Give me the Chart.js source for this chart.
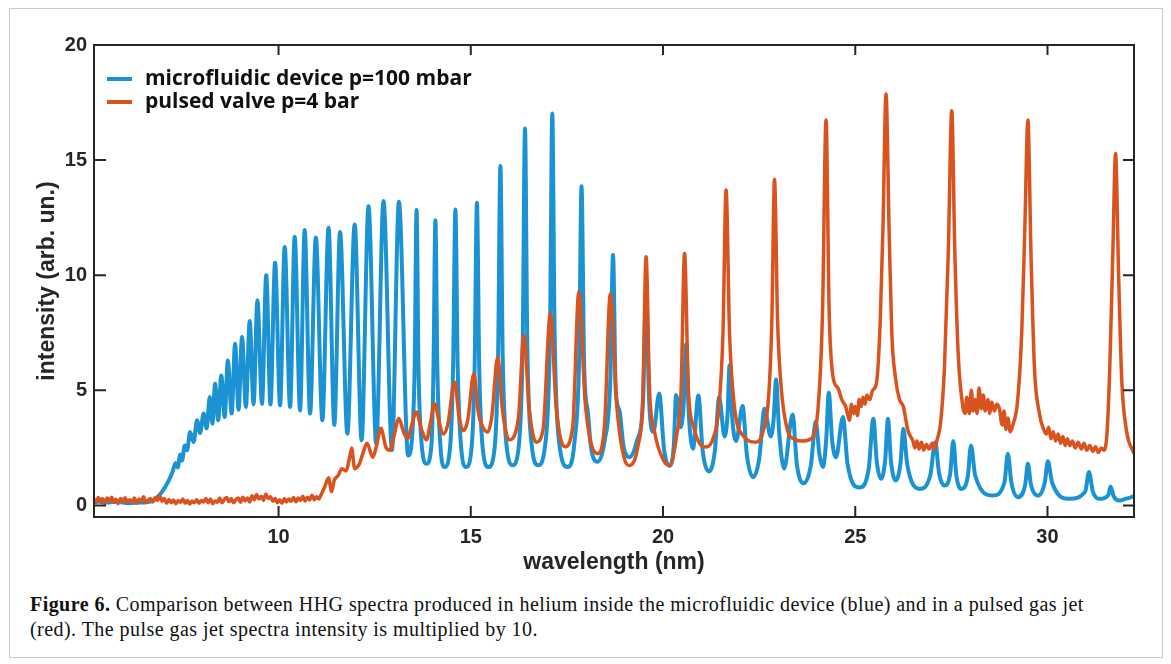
<!DOCTYPE html>
<html>
<head>
<meta charset="utf-8">
<title>HHG spectra</title>
<script src="https://cdn.jsdelivr.net/npm/chart.js@4.4.1/dist/chart.umd.min.js"></script>
<style>
  body { margin: 0; background: #fff; }
  #frame { position: absolute; left: 9px; top: 8px; width: 1152px; height: 648px; border: 1px solid #cacaca; }
  #wrap { position: absolute; left: 0; top: 0; width: 1171px; height: 585px; }
  #caption { position: absolute; left: 30px; top: 592px; font-family: "Liberation Serif", serif; font-size: 20px; letter-spacing: 0.45px; line-height: 25px; color: #111; white-space: nowrap; }
</style>
</head>
<body>
<div id="frame"></div>
<div id="wrap"><canvas id="spectrumChart"></canvas></div>
<div id="caption"><b>Figure 6.</b> Comparison between HHG spectra produced in helium inside the microfluidic device (blue) and in a pulsed gas jet<br>(red). The pulse gas jet spectra intensity is multiplied by 10.</div>
<script>
// values: [wavelength nm, intensity]
const microfluidic = [
  [5.20,0.20],[5.50,0.12],[5.80,0.16],[6.10,0.10],[6.40,0.13],[6.70,0.18],[6.90,0.45],[7.05,0.80],
  [7.15,1.10],[7.25,1.50],[7.32,1.85],[7.38,1.65],[7.44,2.20],[7.49,1.95],[7.56,2.60],[7.62,2.40],
  [7.70,3.19],[7.79,2.75],[7.88,3.70],[7.96,3.15],[8.05,3.99],[8.13,3.35],[8.21,4.71],[8.28,3.55],
  [8.35,5.29],[8.43,3.70],[8.51,5.65],[8.60,3.84],[8.68,6.30],[8.78,3.99],[8.87,7.03],[8.96,4.16],
  [9.05,7.32],[9.15,4.28],[9.25,8.01],[9.35,4.39],[9.45,8.91],[9.57,4.42],[9.68,10.0],[9.79,4.39],
  [9.91,10.54],[10.04,4.35],[10.16,11.23],[10.30,4.28],[10.42,11.67],[10.56,4.13],[10.68,11.96],
  [10.82,3.99],[10.97,11.64],[11.14,3.70],[11.30,12.06],[11.45,3.50],[11.60,11.88],[11.79,3.12],
  [11.98,12.20],[12.16,2.83],[12.34,13.0],[12.54,2.68],[12.73,13.23],[12.95,2.40],[13.13,13.19],
  [13.37,2.17],[13.47,2.9],[13.54,6.0],[13.59,12.83],[13.64,6.0],[13.72,2.7],[13.85,1.81],
  [13.98,2.7],[14.03,6.0],[14.08,12.39],[14.13,6.0],[14.21,2.6],[14.32,1.67],
  [14.46,2.5],[14.54,6.0],[14.60,12.86],[14.66,6.0],[14.75,2.5],[14.88,1.67],
  [15.02,2.5],[15.10,6.0],[15.16,13.15],[15.22,6.0],[15.31,2.5],[15.46,1.67],
  [15.62,2.5],[15.71,6.5],[15.77,14.74],[15.83,6.5],[15.93,2.6],[16.09,1.75],
  [16.25,2.6],[16.35,7.0],[16.41,16.37],[16.47,7.0],[16.58,2.7],[16.75,1.75],
  [16.94,2.7],[17.06,7.5],[17.12,17.02],[17.18,7.5],[17.30,2.7],[17.52,1.67],
  [17.70,2.8],[17.82,6.5],[17.88,13.87],[17.95,6.0],[18.05,4.0],[18.12,2.6],[18.30,1.9],
  [18.48,2.8],[18.63,5.5],[18.70,10.88],[18.77,5.0],[18.87,4.1],[18.97,2.6],[19.13,2.1],
  [19.32,2.8],[19.48,4.5],[19.56,9.1],[19.64,4.5],[19.75,3.2],[19.90,4.86],[20.03,2.4],[20.17,1.72],
  [20.28,2.6],[20.34,4.80],[20.46,3.4],[20.54,4.5],[20.60,7.0],[20.67,4.0],[20.78,2.46],[20.92,4.78],
  [21.03,2.4],[21.20,1.48],[21.35,2.4],[21.46,4.70],[21.60,3.0],[21.68,4.0],[21.73,6.09],[21.80,3.8],
  [21.90,2.8],[22.07,4.32],[22.18,2.2],[22.34,1.23],[22.50,2.0],[22.64,4.20],[22.80,3.0],[22.88,3.8],
  [22.94,5.47],[23.02,3.2],[23.15,1.6],[23.37,3.95],[23.48,1.8],[23.66,0.97],[23.85,1.8],[23.97,3.65],
  [24.07,2.2],[24.16,1.67],[24.25,3.0],[24.31,4.90],[24.40,2.8],[24.50,2.1],[24.68,3.84],[24.80,1.8],
  [25.11,0.78],[25.35,1.6],[25.47,3.77],[25.56,1.9],[25.67,1.16],[25.78,2.0],[25.85,3.77],[25.93,1.9],
  [26.06,1.09],[26.18,1.9],[26.25,3.33],[26.35,1.8],[26.67,0.72],[26.95,1.3],[27.08,2.75],[27.18,1.4],
  [27.32,0.87],[27.47,1.4],[27.55,2.80],[27.63,1.3],[27.76,0.72],[27.93,1.3],[28.01,2.61],[28.12,1.3],
  [28.58,0.43],[28.88,1.0],[28.97,2.25],[29.06,1.0],[29.23,0.36],[29.42,0.9],[29.49,1.81],[29.57,0.9],
  [29.75,0.43],[29.93,1.0],[30.01,1.92],[30.12,1.0],[30.57,0.29],[30.98,0.6],[31.08,1.45],[31.18,0.6],
  [31.35,0.29],[31.58,0.45],[31.64,0.83],[31.72,0.4],[31.87,0.22],[32.05,0.3],[32.25,0.40]
];

const pulsedValve = [
  [5.20,0.28],[5.26,0.12],[5.31,0.35],[5.37,0.18],[5.42,0.30],[5.48,0.10],[5.54,0.32],[5.60,0.20],
  [5.66,0.36],[5.71,0.14],[5.77,0.27],[5.83,0.08],[5.89,0.30],[5.95,0.18],[6.01,0.34],[6.07,0.12],
  [6.13,0.25],[6.19,0.16],[6.25,0.33],[6.31,0.10],[6.37,0.28],[6.43,0.20],[6.49,0.38],[6.55,0.12],
  [6.61,0.24],[6.67,0.30],[6.73,0.15],[6.79,0.35],[6.85,0.22],[6.91,0.42],[6.97,0.18],[7.03,0.30],
  [7.09,0.10],[7.15,0.26],[7.21,0.12],[7.27,0.24],[7.33,0.08],[7.39,0.22],[7.45,0.14],[7.51,0.28],
  [7.57,0.10],[7.63,0.22],[7.69,0.06],[7.75,0.20],[7.81,0.12],[7.87,0.25],[7.93,0.10],[7.99,0.22],
  [8.05,0.15],[8.11,0.30],[8.17,0.12],[8.23,0.28],[8.29,0.08],[8.35,0.20],[8.41,0.14],[8.47,0.32],
  [8.53,0.12],[8.59,0.26],[8.65,0.35],[8.71,0.16],[8.77,0.30],[8.83,0.12],[8.89,0.25],[8.95,0.33],
  [9.01,0.14],[9.07,0.36],[9.13,0.20],[9.19,0.32],[9.25,0.15],[9.31,0.42],[9.37,0.25],[9.43,0.48],
  [9.49,0.28],[9.55,0.40],[9.61,0.22],[9.67,0.50],[9.73,0.30],[9.79,0.38],[9.85,0.18],[9.91,0.30],
  [9.97,0.12],[10.03,0.25],[10.09,0.10],[10.15,0.30],[10.21,0.15],[10.27,0.28],[10.33,0.18],[10.39,0.35],
  [10.45,0.16],[10.51,0.32],[10.57,0.22],[10.63,0.40],[10.69,0.20],[10.75,0.36],[10.81,0.24],[10.87,0.45],
  [10.93,0.25],[10.99,0.38],[11.05,0.28],[11.10,0.45],
  [11.20,0.80],[11.30,1.20],[11.38,0.60],[11.45,1.10],[11.55,1.30],[11.65,1.60],[11.75,1.50],
  [11.85,2.10],[11.90,2.50],[11.98,1.60],[12.10,1.80],[12.20,2.30],[12.30,2.70],[12.45,2.10],[12.55,2.60],
  [12.66,3.35],[12.80,2.50],[12.90,2.40],[13.00,3.00],[13.13,3.78],[13.25,3.20],[13.36,2.90],[13.45,3.40],
  [13.58,4.06],[13.72,3.30],[13.85,2.85],[13.95,3.60],[14.06,4.42],[14.18,3.60],[14.28,3.10],[14.40,3.50],
  [14.58,5.36],[14.70,3.80],[14.80,3.25],[14.92,3.70],[15.08,5.72],[15.20,4.00],[15.35,3.30],[15.44,3.19],
  [15.55,3.90],[15.70,6.45],[15.82,4.20],[16.00,2.85],[16.15,3.10],[16.25,4.00],[16.38,7.39],[16.52,4.20],
  [16.70,2.75],[16.88,3.30],[17.07,8.33],[17.22,4.30],[17.44,2.55],[17.65,3.40],[17.81,9.28],[17.98,4.40],
  [18.30,2.25],[18.48,3.50],[18.63,9.20],[18.80,4.30],[19.00,2.00],[19.13,1.74],[19.35,2.60],[19.47,4.50],
  [19.56,10.80],[19.65,5.00],[19.78,3.20],[20.00,2.00],[20.17,1.74],[20.35,3.00],[20.47,5.00],[20.56,10.94],
  [20.66,5.00],[20.80,3.40],[20.95,2.70],[21.12,2.54],[21.30,2.90],[21.45,4.20],[21.56,7.50],[21.64,13.70],
  [21.73,7.50],[21.85,4.40],[22.10,3.00],[22.42,2.75],[22.60,3.20],[22.75,4.80],[22.83,8.00],[22.90,14.16],
  [22.98,8.00],[23.08,5.00],[23.25,3.20],[23.40,2.90],[23.60,2.80],[23.85,2.90],[24.05,4.60],[24.15,8.50],
  [24.24,16.74],[24.32,8.50],[24.42,5.60],[24.55,5.10],[24.65,4.60],[24.75,4.30],[24.85,3.70],[24.90,4.40],
  [24.96,4.00],[25.00,4.30],[25.06,3.90],[25.10,4.60],[25.16,4.30],[25.20,4.70],[25.26,4.40],[25.30,4.80],
  [25.38,4.60],[25.45,5.00],[25.55,5.30],[25.65,8.00],[25.72,12.0],
  [25.80,17.87],[25.88,12.0],[25.95,7.50],[26.05,5.50],[26.15,4.60],[26.25,4.30],[26.37,3.26],[26.50,2.80],
  [26.55,2.50],[26.60,2.80],[26.66,2.45],[26.72,2.75],[26.78,2.40],[26.85,2.65],[26.92,2.45],[27.00,2.70],
  [27.06,2.45],[27.12,2.80],[27.22,3.60],[27.32,6.00],
  [27.42,11.0],[27.51,17.14],[27.59,11.0],[27.68,6.50],[27.80,4.27],[27.86,4.00],[27.90,4.70],[27.97,4.00],
  [28.02,5.00],[28.07,4.10],[28.12,4.60],[28.17,4.00],[28.22,5.10],[28.28,4.20],[28.33,4.80],[28.38,4.10],
  [28.45,4.60],[28.50,4.00],[28.55,4.50],[28.62,4.10],[28.68,4.40],[28.75,4.20],[28.82,3.50],[28.87,4.10],
  [28.92,3.30],[28.97,3.80],[29.03,3.20],[29.10,3.50],[29.22,4.50],[29.33,7.50],[29.41,12.0],[29.49,16.74],
  [29.57,11.0],[29.66,6.00],[29.79,3.99],[29.90,3.30],[29.97,3.10],[30.03,3.40],[30.09,2.90],[30.15,3.20],
  [30.21,2.80],[30.28,3.10],[30.34,2.70],[30.40,3.00],[30.46,2.60],[30.52,2.90],[30.58,2.60],[30.65,2.80],
  [30.72,2.50],[30.80,2.75],[30.88,2.45],[30.95,2.70],[31.02,2.40],[31.10,2.60],[31.18,2.35],[31.25,2.55],
  [31.32,2.30],[31.40,2.50],[31.47,2.40],
  [31.55,3.20],[31.62,6.00],[31.70,11.0],[31.77,15.29],[31.85,10.0],[31.93,5.50],[32.05,3.30],[32.25,2.25]
];

const seriesLabels = ['microfluidic device p=100 mbar', 'pulsed valve p=4 bar'];
const seriesColors = ['#1b93d3', '#d9531e'];
const xTickValues = [10, 15, 20, 25, 30];
const yTickValues = [0, 5, 10, 15, 20];

const axisColor = '#262626';

// box round the plot with inward ticks on all four sides
const frameTicks = {
  id: 'frameTicks',
  afterDatasetsDraw(chart) {
    const { ctx, chartArea: a, scales: { x, y } } = chart;
    ctx.save();
    ctx.strokeStyle = axisColor;
    ctx.lineWidth = 2;
    ctx.strokeRect(a.left, a.top, a.right - a.left, a.bottom - a.top);
    ctx.beginPath();
    x.ticks.forEach(t => {
      const px = x.getPixelForValue(t.value);
      ctx.moveTo(px, a.bottom); ctx.lineTo(px, a.bottom - 11);
      ctx.moveTo(px, a.top); ctx.lineTo(px, a.top + 10);
    });
    y.ticks.forEach(t => {
      const py = y.getPixelForValue(t.value);
      ctx.moveTo(a.left, py); ctx.lineTo(a.left + 12, py);
      ctx.moveTo(a.right, py); ctx.lineTo(a.right - 11, py);
    });
    ctx.stroke();
    ctx.restore();
  }
};

// legend sitting inside the top-left corner of the plot
const insideLegend = {
  id: 'insideLegend',
  afterDatasetsDraw(chart) {
    const { ctx, chartArea: a } = chart;
    ctx.save();
    ctx.font = 'bold 21px "Open Sans"';
    ctx.textBaseline = 'middle';
    chart.data.datasets.forEach((ds, i) => {
      const yMid = a.top + 34 + i * 23;
      ctx.fillStyle = ds.borderColor;
      ctx.fillRect(a.left + 13, yMid - 2, 25, 4);
      ctx.fillStyle = '#111';
      ctx.fillText(ds.label, a.left + 51, yMid);
    });
    ctx.restore();
  }
};

const ctx = document.getElementById('spectrumChart').getContext('2d');

new Chart(ctx, {
  type: 'line',
  data: {
    datasets: [
      {
        label: seriesLabels[0],
        data: microfluidic.map(p => ({ x: p[0], y: p[1] })),
        borderColor: seriesColors[0],
        backgroundColor: seriesColors[0],
        borderWidth: 4,
        pointRadius: 0,
        cubicInterpolationMode: 'monotone',
        order: 1
      },
      {
        label: seriesLabels[1],
        data: pulsedValve.map(p => ({ x: p[0], y: p[1] })),
        borderColor: seriesColors[1],
        backgroundColor: seriesColors[1],
        borderWidth: 3.5,
        pointRadius: 0,
        cubicInterpolationMode: 'monotone',
        order: 0
      }
    ]
  },
  options: {
    responsive: true,
    maintainAspectRatio: false,
    animation: false,
    devicePixelRatio: 1,
    layout: { padding: { top: 45, right: 37, bottom: 0, left: 0 } },
    plugins: {
      tooltip: { enabled: false },
      legend: { display: false }
    },
    scales: {
      x: {
        type: 'linear',
        min: 5.2,
        max: 32.25,
        afterBuildTicks(scale) { scale.ticks = xTickValues.map(v => ({ value: v })); },
        afterFit(scale) { scale.height = 68; },
        grid: { display: false, drawTicks: false },
        border: { display: false },
        ticks: {
          padding: 8,
          color: axisColor,
          font: { family: 'Liberation Sans', weight: 'bold', size: 20 }
        },
        title: {
          display: true,
          text: 'wavelength (nm)',
          color: axisColor,
          padding: { top: 0, bottom: 9 },
          font: { family: 'Liberation Sans', weight: 'bold', size: 23 }
        }
      },
      y: {
        type: 'linear',
        min: -0.5,
        max: 20,
        afterBuildTicks(scale) { scale.ticks = yTickValues.map(v => ({ value: v })); },
        afterFit(scale) { scale.width = 94; },
        grid: { display: false, drawTicks: false },
        border: { display: false },
        ticks: {
          padding: 7,
          color: axisColor,
          font: { family: 'Liberation Sans', weight: 'bold', size: 20 }
        },
        title: {
          display: true,
          text: 'intensity (arb. un.)',
          color: axisColor,
          padding: { top: 34, bottom: 0 },
          font: { family: 'Liberation Sans', weight: 'bold', size: 23 }
        }
      }
    }
  },
  plugins: [frameTicks, insideLegend]
});
</script>
</body>
</html>
